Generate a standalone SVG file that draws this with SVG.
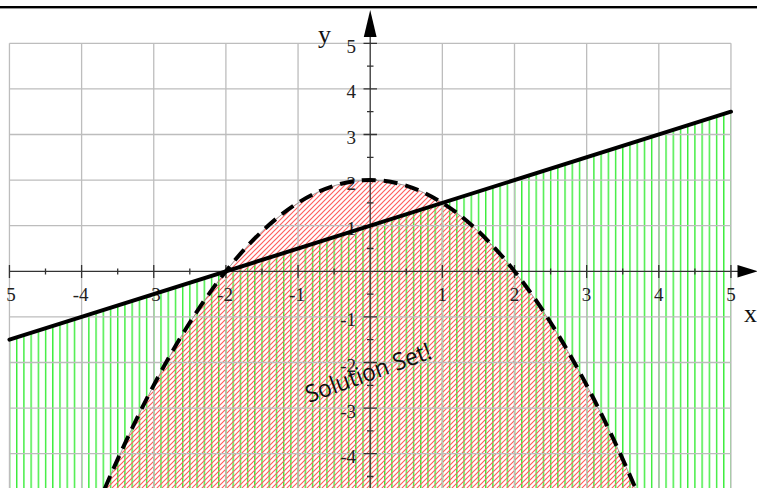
<svg xmlns="http://www.w3.org/2000/svg" width="757" height="488" viewBox="0 0 757 488">
<defs>
<style>
.grid{stroke:#bdbdbd;stroke-width:1.3;fill:none}
.axis{stroke:#333;stroke-width:1.3;fill:none}
.lbl{font-family:"Liberation Serif","Times New Roman",serif;font-size:19px;fill:#222}
.var{font-family:"Liberation Serif","Times New Roman",serif;font-size:26px;fill:#111}
</style>
<pattern id="greenHatch" patternUnits="userSpaceOnUse" x="8.8" y="0" width="7.215" height="10">
<rect x="0" y="0" width="1.4" height="10" fill="#38ec38"/>
</pattern>
<pattern id="redHatch" patternUnits="userSpaceOnUse" x="0" y="0" width="5" height="5">
<path d="M-1,1 L1,-1 M0,5 L5,0 M4,6 L6,4" stroke="#ff5e5e" stroke-width="1.15" fill="none"/>
</pattern>
</defs>
<rect x="0" y="0" width="757" height="488" fill="#fff"/>
<rect x="0" y="6" width="757" height="2.4" fill="#000"/>

<g id="regions">
<polygon id="line-region" points="9.45,339.7 730.95,111.7 730.95,500 9.45,500" fill="url(#greenHatch)"/>
<path id="parabola-region" d="M96,509.3 Q370.2,-149.2 644.4,509.3 Z" fill="url(#redHatch)"/>
</g>

<g id="grid" class="grid">
<path d="M9.45,43.3V488 M81.6,43.3V488 M153.75,43.3V488 M225.9,43.3V488 M298.05,43.3V488 M442.35,43.3V488 M514.5,43.3V488 M586.65,43.3V488 M658.8,43.3V488 M730.95,43.3V488"/>
<path d="M9.45,43.3H730.95 M9.45,88.9H730.95 M9.45,134.5H730.95 M9.45,180.1H730.95 M9.45,225.7H730.95 M9.45,316.9H730.95 M9.45,362.5H730.95 M9.45,408.1H730.95 M9.45,453.7H730.95"/>
</g>

<g id="axes">
<path class="axis" d="M9.45,271.3H740 M370.2,488V32"/>
<path class="axis" d="M363.5,43.3H377 M363.5,88.9H377 M363.5,134.5H377 M363.5,180.1H377 M363.5,225.7H377 M363.5,316.9H377 M363.5,362.5H377 M363.5,408.1H377 M363.5,453.7H377"/>
<path class="axis" d="M367,66.1H373.5 M367,111.7H373.5 M367,157.3H373.5 M367,202.9H373.5 M367,248.5H373.5 M367,294.1H373.5 M367,339.7H373.5 M367,385.3H373.5 M367,430.9H373.5 M367,476.5H373.5"/>
<path class="axis" d="M9.45,265V278 M81.6,265V278 M153.75,265V278 M225.9,265V278 M298.05,265V278 M442.35,265V278 M514.5,265V278 M586.65,265V278 M658.8,265V278 M730.95,265V278"/>
<path class="axis" d="M45.5,268.5V274.5 M117.7,268.5V274.5 M189.8,268.5V274.5 M262,268.5V274.5 M334.1,268.5V274.5 M406.3,268.5V274.5 M478.4,268.5V274.5 M550.6,268.5V274.5 M622.7,268.5V274.5 M694.9,268.5V274.5"/>
<polygon id="y-arrow" points="370.2,10 363.8,37 376.6,37" fill="#000"/>
<polygon id="x-arrow" points="758,271.3 737.5,265 737.5,277.6" fill="#000"/>
</g>

<g id="tick-labels" class="lbl">
<g text-anchor="end">
<text x="356" y="52.8">5</text>
<text x="356" y="98.4">4</text>
<text x="356" y="144">3</text>
<text x="356" y="189.6">2</text>
<text x="356" y="235.2">1</text>
<text x="356" y="326.4">-1</text>
<text x="356" y="372">-2</text>
<text x="356" y="417.6">-3</text>
<text x="356" y="463.2">-4</text>
</g>
<g text-anchor="middle">
<text x="11" y="301">5</text>
<text x="80.6" y="301">-4</text>
<text x="152.8" y="301">-3</text>
<text x="225" y="301">-2</text>
<text x="297" y="301">-1</text>
<text x="442.3" y="301">1</text>
<text x="514.5" y="301">2</text>
<text x="586.6" y="301">3</text>
<text x="658.8" y="301">4</text>
<text x="731" y="301">5</text>
</g>
</g>

<g id="axis-names" class="var">
<text x="318" y="42.5">y</text>
<text x="744" y="322">x</text>
</g>

<g id="curves">
<path id="parabola-edge" d="M96,509.3 Q370.2,-149.2 644.4,509.3" fill="none" stroke="#888" stroke-width="0.8"/>
<path id="parabola" d="M96,509.3 Q370.2,-149.2 644.4,509.3" fill="none" stroke="#000" stroke-width="4" stroke-dasharray="14 8"/>
<line id="boundary-line" x1="9.45" y1="339.7" x2="730.95" y2="111.7" stroke="#000" stroke-width="4" stroke-linecap="round"/>
</g>

<g id="annotation">
<text x="309" y="403" transform="rotate(-20 309 403)" font-family="'Open Sans','Liberation Sans',sans-serif" font-size="24" fill="#111" textLength="132" lengthAdjust="spacingAndGlyphs">Solution Set!</text>
</g>
</svg>
